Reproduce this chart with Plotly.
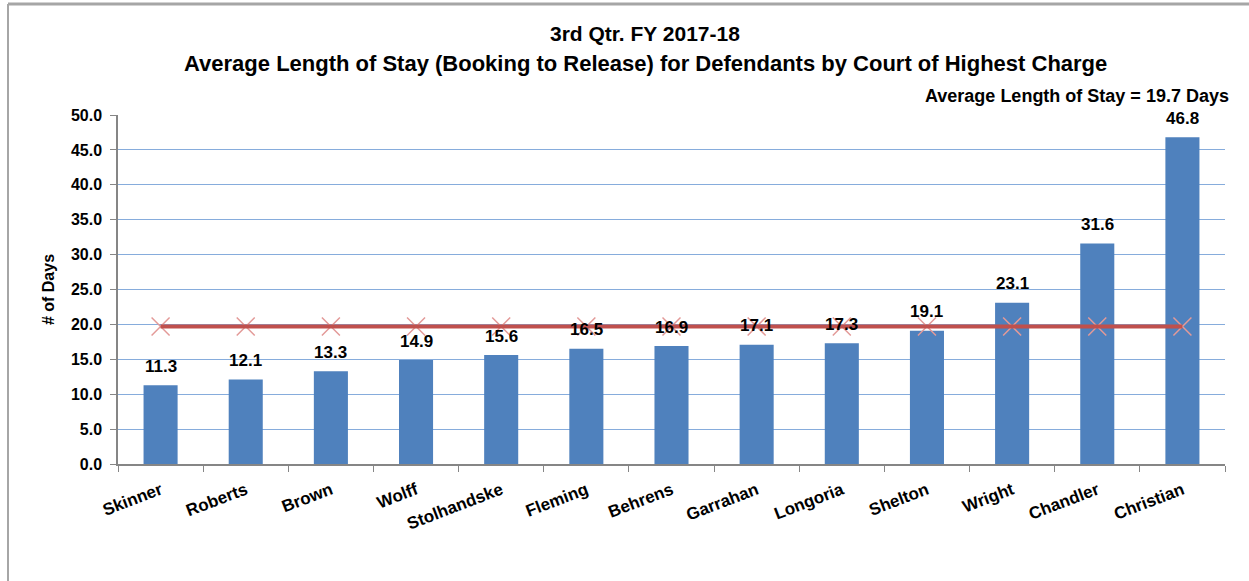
import plotly.graph_objects as go

categories = ["Skinner", "Roberts", "Brown", "Wolff", "Stolhandske", "Fleming", "Behrens",
              "Garrahan", "Longoria", "Shelton", "Wright", "Chandler", "Christian"]
avg_stay = [11.3, 12.1, 13.3, 14.9, 15.6, 16.5, 16.9, 17.1, 17.3, 19.1, 23.1, 31.6, 46.8]
overall_avg = [19.7] * len(categories)
y_ticks = [0, 5, 10, 15, 20, 25, 30, 35, 40, 45, 50]

FONT = "Liberation Sans, Arial, sans-serif"

W, H = 1249, 581
L, R, T, B = 118, 24, 115, 117
pw, ph = W - L - R, H - T - B

def px_x(px):
    return (px - L) / pw

def px_y(py):
    return (H - B - py) / ph

fig = go.Figure()
fig.add_trace(go.Bar(
    x=categories, y=avg_stay, width=0.4,
    marker=dict(color="#4F81BD", line=dict(width=0)),
    showlegend=False, hoverinfo="x+y",
))
fig.add_trace(go.Scatter(
    x=categories, y=overall_avg, mode="markers",
    marker=dict(symbol="x-thin", size=18, line=dict(color="#E39A98", width=1.5)),
    showlegend=False, cliponaxis=False,
))
fig.add_trace(go.Scatter(
    x=categories, y=overall_avg, mode="lines",
    line=dict(color="#C0504D", width=4),
    showlegend=False, cliponaxis=False,
))

label_annotations = [
    dict(x=c, y=v, xref="x", yref="y", text=f"<b>{v:.1f}</b>", showarrow=False,
         yshift=19, xanchor="center", yanchor="middle",
         font=dict(family=FONT, size=17, color="#000000"))
    for c, v in zip(categories, avg_stay)
]

fig.update_layout(
    width=W, height=H,
    margin=dict(l=L, r=R, t=T, b=B),
    paper_bgcolor="white", plot_bgcolor="white",
    font=dict(family=FONT, color="#000000"),
    xaxis=dict(
        type="category", tickangle=-21, tickson="boundaries",
        tickvals=categories, ticktext=[f"<b>{c}</b>" for c in categories],
        ticks="outside", ticklen=6, tickcolor="#868686",
        showline=True, linecolor="#868686", linewidth=1.5,
        tickfont=dict(family=FONT, size=17, color="#000000"),
        ticklabelstandoff=8,
        showgrid=False, range=[-0.5, 12.5],
    ),
    yaxis=dict(
        range=[0, 50], tickvals=y_ticks, ticktext=[f"<b>{v:.1f}</b>" for v in y_ticks],
        ticks="outside", ticklen=6, tickcolor="#868686",
        showline=True, linecolor="#868686", linewidth=1.5,
        gridcolor="#86ACDC", gridwidth=1,
        tickfont=dict(family=FONT, size=16, color="#000000"),
        ticklabelstandoff=5,
        title=dict(text="<b># of Days</b>", font=dict(family=FONT, size=16), standoff=12),
        zeroline=False,
    ),
    annotations=label_annotations + [
        dict(text="<b>3rd Qtr. FY 2017-18</b>", xref="paper", yref="paper",
             x=px_x(645), y=px_y(33), xanchor="center", yanchor="middle",
             showarrow=False, font=dict(family=FONT, size=21)),
        dict(text="<b>Average Length of Stay (Booking to Release) for Defendants by Court of Highest Charge</b>",
             xref="paper", yref="paper", x=px_x(645), y=px_y(63), xanchor="center", yanchor="middle",
             showarrow=False, font=dict(family=FONT, size=22)),
        dict(text="<b>Average Length of Stay = 19.7 Days</b>", xref="paper", yref="paper",
             x=px_x(1231), y=px_y(96), xanchor="right", yanchor="middle",
             showarrow=False, font=dict(family=FONT, size=18)),
    ],
    shapes=[
        dict(type="line", xref="paper", yref="paper", x0=px_x(8), x1=px_x(1249),
             y0=px_y(4), y1=px_y(4), line=dict(color="#A6A6A6", width=3)),
        dict(type="line", xref="paper", yref="paper", x0=px_x(8), x1=px_x(8),
             y0=px_y(4), y1=px_y(581), line=dict(color="#A6A6A6", width=2)),
    ],
)

fig.write_html("out.html", config={"displayModeBar": False},
               post_script="document.body.style.margin='0px';")
